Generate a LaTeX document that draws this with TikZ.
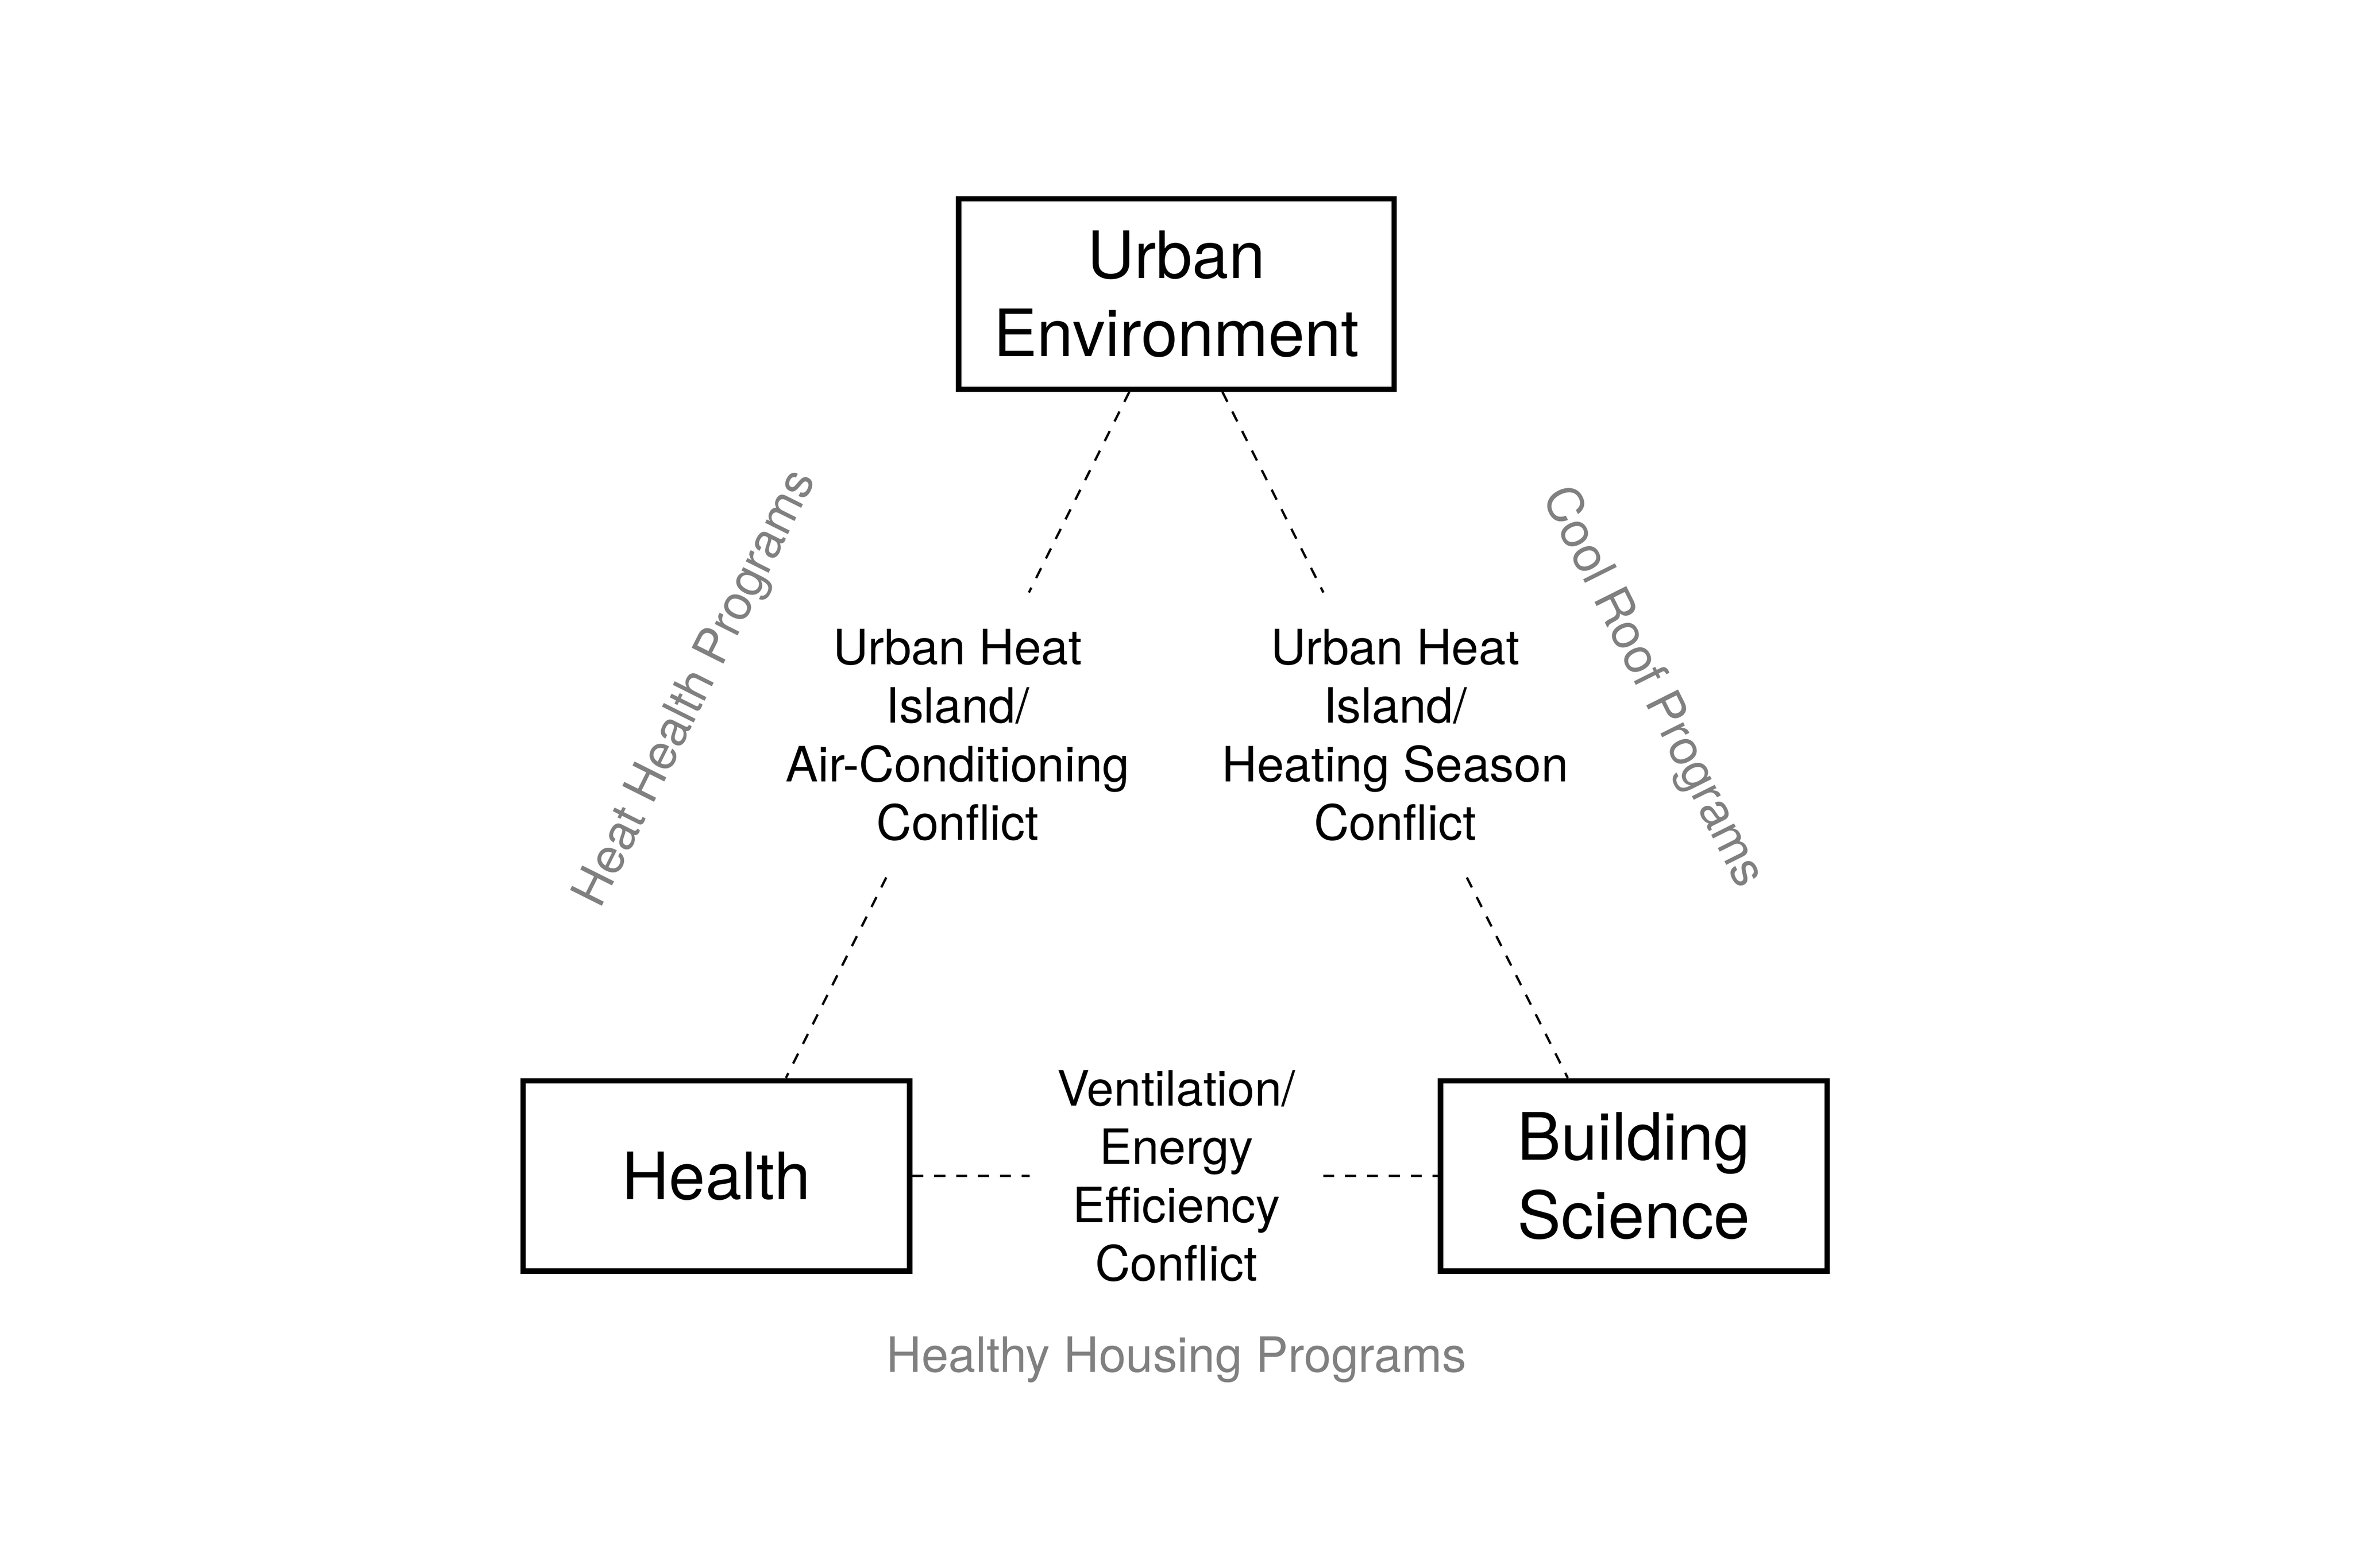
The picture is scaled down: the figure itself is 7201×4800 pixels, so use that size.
\documentclass[tikz,border=0pt]{standalone}
\usepackage{fontspec}
\setmainfont{TeX Gyre Heros}
\usetikzlibrary{calc}
\definecolor{proggray}{RGB}{128,128,128}
\begin{document}
\begin{tikzpicture}[x=0.1pt,y=-0.1pt,
  topicbox/.style={draw, line width=1.67pt, minimum width=118.3pt, minimum height=58.3pt,
    inner sep=0pt, align=center, font=\fontsize{20}{24}\selectfont},
  conflictlbl/.style={inner xsep=8.3pt, inner ysep=11pt, align=center,
    font=\fontsize{14.9}{17.9}\selectfont},
  proglbl/.style={inner sep=0pt, text=proggray, font=\fontsize{14.9}{17.9}\selectfont},
  conn/.style={line width=0.7pt, dash pattern=on 3.4pt off 3.3pt}]
\fill[white] (0,0) rectangle (7201,4800);
\useasboundingbox (0,0) rectangle (7201,4800);

% main boxes
\node[topicbox, minimum width=133.3pt] (ue) at (3600,900) {Urban\\Environment};
\node[topicbox] (he) at (2192,3600) {Health};
\node[topicbox] (bs) at (5000,3600) {Building\\Science};

% connector end points on the boxes
\coordinate (ueL) at ($(ue.south)+(-144,0)$);
\coordinate (ueR) at ($(ue.south)+(141,0)$);
\coordinate (heT) at ($(he.north)+(213,0)$);
\coordinate (bsT) at ($(bs.north)+(-202,0)$);

% conflict labels
\node[conflictlbl] (lh) at ($(ueL)!0.5!(heT)$) {Urban Heat\\Island/\\Air-Conditioning\\Conflict};
\node[conflictlbl] (rh) at ($(ueR)!0.5!(bsT)$) {Urban Heat\\Island/\\Heating Season\\Conflict};
\node[conflictlbl] (vent) at (3600,3600) {Ventilation/\\Energy\\Efficiency\\Conflict};

% dashed connectors
\draw[conn] (ueL) -- (lh);
\draw[conn] (lh) -- (heT);
\draw[conn] (ueR) -- (rh);
\draw[conn] (rh) -- (bsT);
\draw[conn] (he.east) -- (vent);
\draw[conn] (vent) -- (bs.west);

% program labels
\node[proglbl, rotate=63.4] (hhp) at (2133,2109) {Heat Health Programs};
\node[proglbl, rotate=-63.4] (crp) at (5055,2105) {Cool Roof Programs};
\node[proglbl, anchor=base] (hhop) at (3600,4200) {Healthy Housing Programs};
\end{tikzpicture}
\end{document}
